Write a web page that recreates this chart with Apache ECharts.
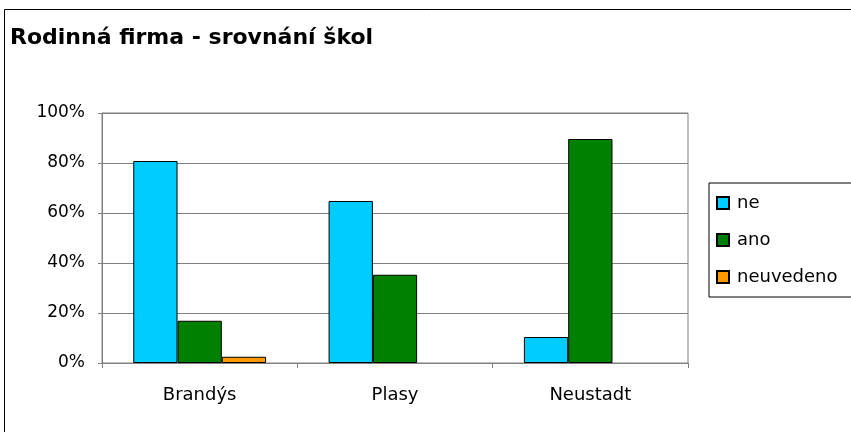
<!DOCTYPE html>
<html>
<head>
<meta charset="utf-8">
<script src="https://cdn.jsdelivr.net/npm/echarts@6/dist/echarts.min.js"></script>
<style>
  html, body { margin: 0; padding: 0; background: #fff; }
  #chart { width: 851px; height: 432px; }
</style>
</head>
<body>
<div id="chart"></div>
<script>
// data
var schools = ['Brandýs', 'Plasy', 'Neustadt'];
var ne = [80.8, 64.8, 10.4];
var ano = [16.9, 35.3, 89.6];
var neuvedeno = [2.5, 0, 0];
var yTicks = [0, 20, 40, 60, 80, 100];

var chart = echarts.init(document.getElementById('chart'));
var font = 'DejaVu Sans, Liberation Sans, sans-serif';

function bar(name, data, color) {
    return {
        name: name,
        type: 'bar',
        // zero values get no bar at all (no outline stub)
        data: data.map(function (v) { return v === 0 ? '-' : v; }),
        barGap: '0%',
        barCategoryGap: '32%',
        itemStyle: {
            color: color,
            borderColor: '#000',
            borderWidth: 1
        },
        animation: false
    };
}

chart.setOption({
    backgroundColor: '#fff',
    title: {
        text: 'Rodinná firma - srovnání škol',
        left: 5,
        top: 22,
        textStyle: { fontFamily: font, fontSize: 22, fontWeight: 'bold', color: '#000' }
    },
    graphic: [{
        type: 'rect',
        shape: { x: 4.5, y: 9.5, width: 900, height: 500 },
        style: { fill: null, stroke: '#000', lineWidth: 1 },
        silent: true
    }],
    legend: {
        orient: 'vertical',
        left: 709,
        top: 183,
        padding: [11, 40, 11, 7],
        itemGap: 19,
        itemWidth: 12,
        itemHeight: 12,
        icon: 'rect',
        borderColor: '#000',
        borderWidth: 1,
        textStyle: { fontFamily: font, fontSize: 18, color: '#000', padding: [0, 0, 0, 3] },
        data: ['ne', 'ano', 'neuvedeno']
    },
    grid: {
        left: 102,
        right: 163,
        top: 113,
        bottom: 69,
        show: true,
        borderColor: '#808080',
        borderWidth: 1
    },
    xAxis: {
        type: 'category',
        data: schools,
        axisLine: { lineStyle: { color: '#808080' } },
        axisTick: { show: true, length: 5, lineStyle: { color: '#808080' } },
        axisLabel: { fontFamily: font, fontSize: 18, color: '#000', margin: 23 }
    },
    yAxis: {
        type: 'value',
        min: yTicks[0],
        max: yTicks[yTicks.length - 1],
        interval: 20,
        axisLine: { show: true, lineStyle: { color: '#808080' } },
        axisTick: { show: true, length: 4, lineStyle: { color: '#808080' } },
        splitLine: { lineStyle: { color: '#808080' } },
        axisLabel: {
            fontFamily: font, fontSize: 17, color: '#000', margin: 17,
            formatter: function (v) { return v + '%'; }
        }
    },
    series: [
        bar('ne', ne, '#00CCFF'),
        bar('ano', ano, '#008000'),
        bar('neuvedeno', neuvedeno, '#FF9900')
    ]
});
</script>
</body>
</html>
